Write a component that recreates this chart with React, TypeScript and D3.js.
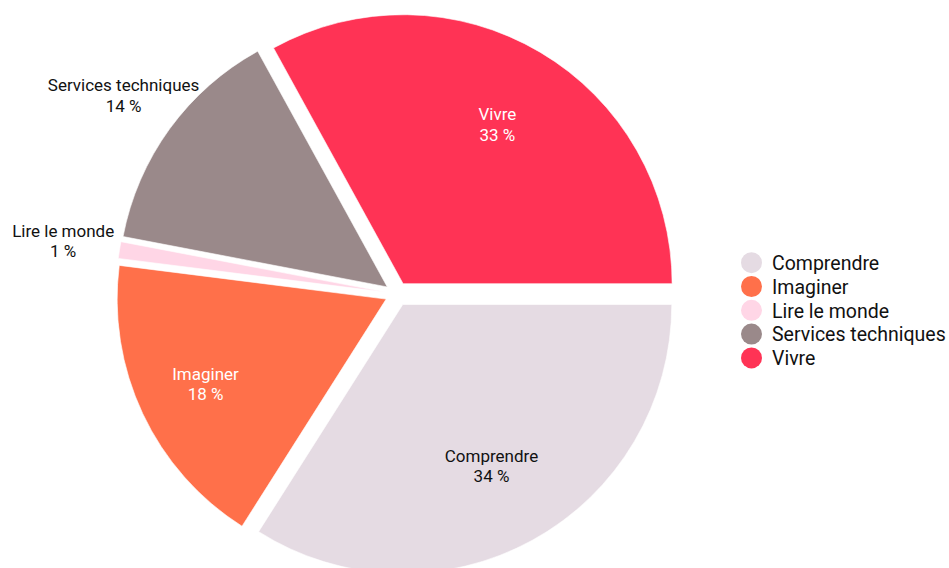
import React from "react";
import * as d3 from "d3";

const categories = ["Comprendre", "Imaginer", "Lire le monde", "Services techniques", "Vivre"];
const values = [34, 18, 1, 14, 33];
const colors = ["#e5dbe3", "#ff704a", "#ffd6e6", "#9a898a", "#ff3355"];
const labelColors = ["#111111", "#ffffff", "#111111", "#111111", "#ffffff"];
const outside = [false, false, true, true, false];

const W = 949, H = 568;
const cx = 397, cy = 294, R = 269, explode = 12;
const FONT = "Roboto, 'DejaVu Sans', sans-serif";

export default function App() {
  const pie = d3
    .pie<number>()
    .sort(null)
    .startAngle(Math.PI / 2)
    .endAngle(Math.PI / 2 + 2 * Math.PI)(values);
  const arc = d3.arc<d3.PieArcDatum<number>>().innerRadius(0).outerRadius(R);
  const total = d3.sum(values);

  return (
    <svg width={W} height={H} style={{ position: "absolute", left: 0, top: 0 }} fontFamily={FONT}>
      <g transform={`translate(${cx},${cy})`}>
        {pie.map((p, i) => {
          const mid = (p.startAngle + p.endAngle) / 2;
          const dx = Math.sin(mid) * explode, dy = -Math.cos(mid) * explode;
          return (
            <path key={i} d={arc(p) || ""} transform={`translate(${dx},${dy})`} fill={colors[i]} stroke="#ffffff" strokeWidth={0.6} />
          );
        })}
        {pie.map((p, i) => {
          const mid = (p.startAngle + p.endAngle) / 2;
          const lr = outside[i] ? 338 : 178.6 + 36.5 * Math.abs(Math.sin(mid));
          const x = Math.sin(mid) * lr, y = -Math.cos(mid) * lr;
          const pct = Math.round((values[i] / total) * 100);
          return (
            <text key={i} textAnchor="middle" fontSize={17} fill={outside[i] ? "#111111" : labelColors[i]}>
              <tspan x={x} y={y - 4.2}>{categories[i]}</tspan>
              <tspan x={x} y={y + 16.3}>{pct} %</tspan>
            </text>
          );
        })}
      </g>
      <g transform="translate(751.5,262.7)">
        {categories.map((c, i) => (
          <g key={c} transform={`translate(0,${i * 23.8})`}>
            <circle r={10.5} fill={colors[i]} />
            <text x={20.5} y={7.2} fontSize={19.5} fill="#111111">{c}</text>
          </g>
        ))}
      </g>
    </svg>
  );
}
